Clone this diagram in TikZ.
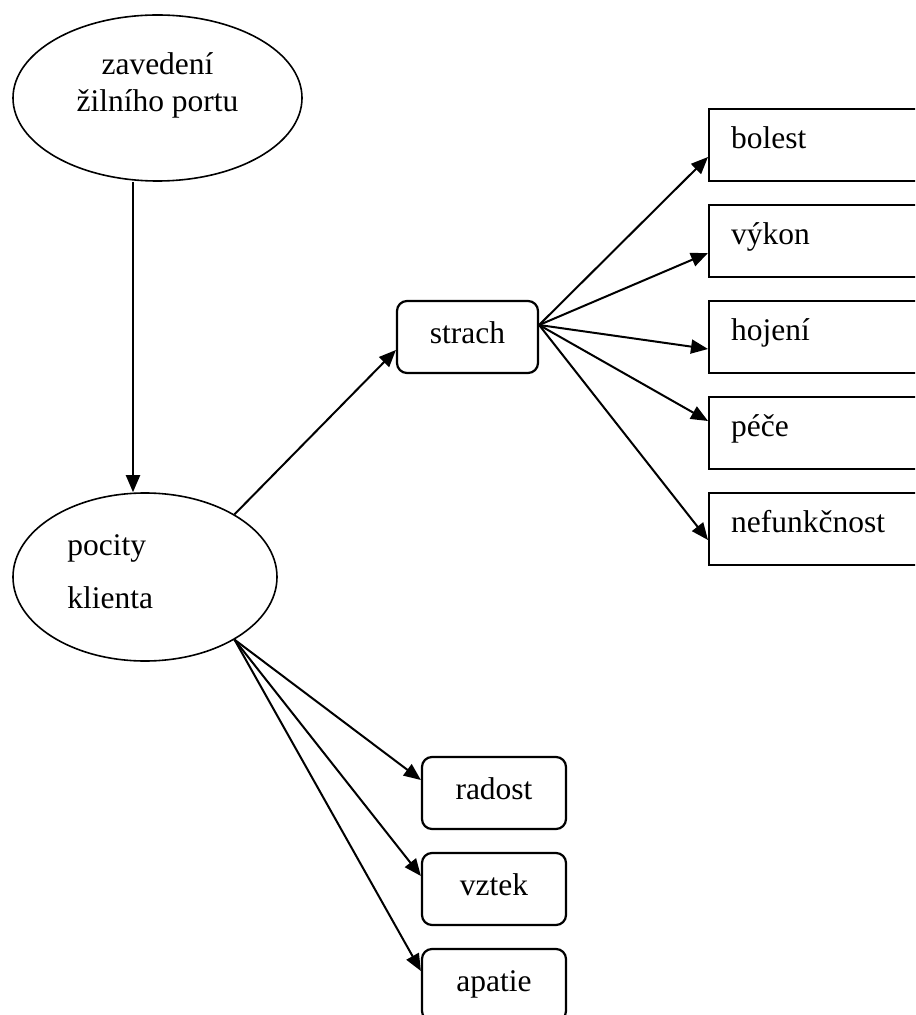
\documentclass[tikz,border=0pt]{standalone}
\usepackage{fontspec}
\setmainfont{Liberation Serif}
\usetikzlibrary{shapes.geometric,arrows.meta}
\begin{document}
\begin{tikzpicture}[x=0.5pt,y=-0.5pt,
  every node/.style={font=\fontsize{15.75pt}{18pt}\selectfont},
  oval/.style={draw, ellipse, line width=0.8pt, inner sep=0pt},
  rbox/.style={draw, rounded corners=5pt, line width=1.1pt, minimum width=72pt, minimum height=36pt, inner sep=0pt, text height=10.5pt, text depth=4pt},
  sbox/.style={draw, line width=1.1pt, minimum width=130pt, minimum height=36pt, inner xsep=11pt, inner ysep=0pt, text width=108pt, align=left, text height=10.5pt, text depth=7pt, anchor=west},
  txt/.style={inner sep=0pt},
  arr/.style={-{Triangle[length=8.5pt,width=7pt]}, line width=1pt}]
\useasboundingbox (0,0) rectangle (915,1015);
\clip (0,0) rectangle (915,1015);
% ellipses
\node[oval, minimum width=144.5pt, minimum height=83pt] (e1) at (157.5,98) {};
\node[txt, anchor=base] (e1a) at (157.5,75) {zavedení};
\node[txt, anchor=base] (e1b) at (157.5,112) {žilního portu};
\node[oval, minimum width=132pt, minimum height=84pt] (p) at (145,577) {};
\node[txt, anchor=base west] (pa) at (67,555) {pocity};
\node[txt, anchor=base west] (pb) at (67,608) {klienta};
% strach
\node[rbox, minimum width=70.5pt] (s) at (467.5,337) {strach};
% right boxes
\node[sbox] (b1) at (708,145) {bolest};
\node[sbox] (b2) at (708,241) {výkon};
\node[sbox] (b3) at (708,337) {hojení};
\node[sbox] (b4) at (708,433) {péče};
\node[sbox] (b5) at (708,529) {nefunkčnost};
% bottom boxes
\node[rbox] (r1) at (494,793) {radost};
\node[rbox] (r2) at (494,889) {vztek};
\node[rbox] (r3) at (494,985) {apatie};
% connectors
\coordinate (vx) at (133,0);
\draw[arr] (e1.south -| vx) -- (p.north -| vx);
\draw[arr] (p.35) -- ([yshift=-6.5pt]s.west);
\draw[arr] ([yshift=6pt]s.east) -- ([yshift=-6pt]b1.west);
\draw[arr] ([yshift=6pt]s.east) -- ([yshift=-6pt]b2.west);
\draw[arr] ([yshift=6pt]s.east) -- ([yshift=-6pt]b3.west);
\draw[arr] ([yshift=6pt]s.east) -- ([yshift=6pt]b4.west);
\draw[arr] ([yshift=6pt]s.east) -- ([yshift=-5.5pt]b5.west);
\draw[arr] (p.-35) -- ([yshift=6.5pt]r1.west);
\draw[arr] (p.-35) -- ([yshift=6.5pt]r2.west);
\draw[arr] (p.-35) -- ([yshift=7pt]r3.west);
\end{tikzpicture}
\end{document}
